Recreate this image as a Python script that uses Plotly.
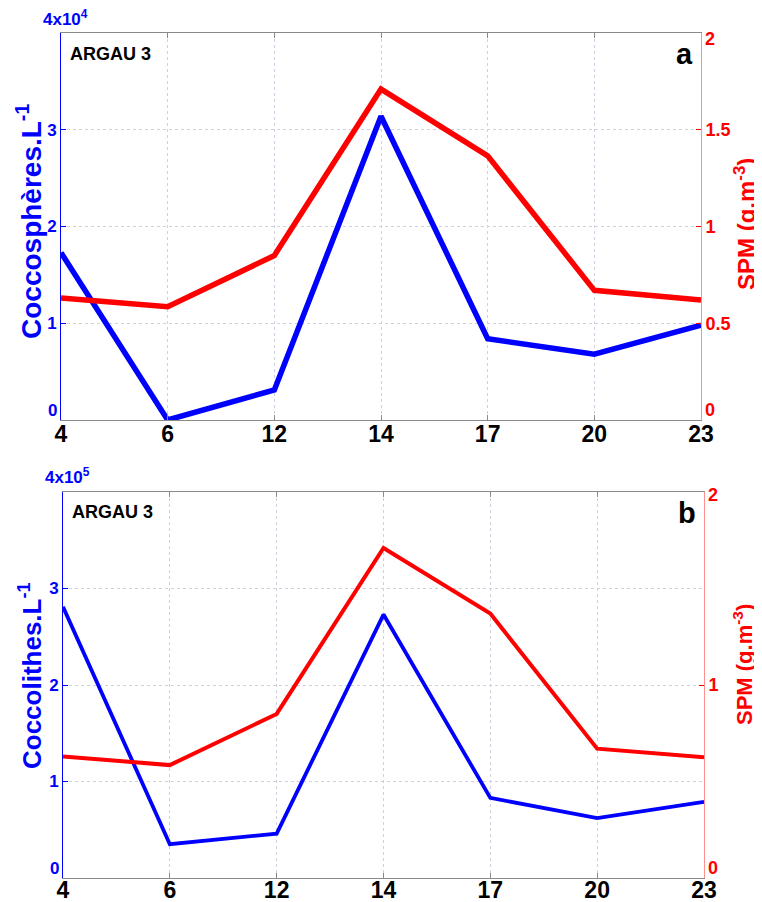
import plotly.graph_objects as go
from plotly.subplots import make_subplots

sampling = ["4", "6", "12", "14", "17", "20", "23"]
coccospheres = [1.73, 0.0, 0.31, 3.14, 0.84, 0.68, 0.98]      # x10^4 per L
coccolithes = [2.81, 0.35, 0.46, 2.73, 0.83, 0.62, 0.79]      # x10^5 per L
spm_a = [0.63, 0.585, 0.85, 1.71, 1.365, 0.67, 0.62]
spm_b = [0.63, 0.585, 0.85, 1.71, 1.37, 0.67, 0.625]
left_ticks = [1, 2, 3]
spm_ticks_a = [0.5, 1, 1.5]
spm_ticks_b = [1]

BLUE = "#0000ff"
RED = "#ff0000"
FONT = "Liberation Sans, Arial, sans-serif"
W, H = 762, 902
OFF = 8  # page body margin offset in the browser


def px(sx):
    return (sx - OFF) / W


def py(sy):
    return 1 - (sy - OFF) / H


fig = make_subplots(rows=2, cols=1, specs=[[{"secondary_y": True}], [{"secondary_y": True}]])

fig.add_trace(go.Scatter(x=sampling, y=coccospheres, mode="lines", line=dict(color=BLUE, width=5.5),
                         showlegend=False), row=1, col=1, secondary_y=False)
fig.add_trace(go.Scatter(x=sampling, y=spm_a, mode="lines", line=dict(color=RED, width=5.5),
                         showlegend=False), row=1, col=1, secondary_y=True)
fig.add_trace(go.Scatter(x=sampling, y=coccolithes, mode="lines", line=dict(color=BLUE, width=3.8),
                         showlegend=False), row=2, col=1, secondary_y=False)
fig.add_trace(go.Scatter(x=sampling, y=spm_b, mode="lines", line=dict(color=RED, width=4),
                         showlegend=False), row=2, col=1, secondary_y=True)

panels = [
    dict(x=[61, 701], y=[33, 420], xa="xaxis", ya="yaxis", ya2="yaxis2", spmticks=spm_ticks_a,
         title="Coccosphères.L<sup>-1</sup>", tsize=28, tx=29, ty=222,
         spm_size=24, sx=745, sy=224, standoff=-7,
         exp="4x10<sup>4</sup>", exp_bottom=31, top2_center=39,
         letter="a", argau_top=42),
    dict(x=[63, 704], y=[492, 878], xa="xaxis2", ya="yaxis3", ya2="yaxis4", spmticks=spm_ticks_b,
         title="Coccolithes.L<sup>-1</sup>", tsize=26, tx=30, ty=676,
         spm_size=22, sx=743, sy=665, standoff=-9,
         exp="4x10<sup>5</sup>", exp_bottom=489, top2_center=495,
         letter="b", argau_top=500),
]

grid = "#cfd1e0"
for p in panels:
    x0, x1 = p["x"]
    y0, y1 = p["y"]
    fig.layout[p["xa"]].update(
        domain=[px(x0), px(x1)], type="category", range=[0, 6], showgrid=True, gridcolor=grid,
        griddash="dot", gridwidth=1, showline=True, linecolor="#8a8a8a", linewidth=1, mirror="ticks",
        ticks="inside", ticklen=5, tickcolor="#8a8a8a", automargin=False,
        ticklabelstandoff=p["standoff"],
        tickfont=dict(family=FONT, size=23, color="black", weight="bold"), zeroline=False)
    fig.layout[p["ya"]].update(
        domain=[py(y1), py(y0)], range=[0, 4], tickvals=left_ticks, showgrid=True, gridcolor=grid,
        griddash="dot", gridwidth=1, showline=True, linecolor=BLUE, linewidth=1, ticks="inside",
        ticklen=5, tickcolor=BLUE, automargin=False,
        tickfont=dict(family=FONT, size=17, color=BLUE, weight="bold"), zeroline=False)
    fig.layout[p["ya2"]].update(
        range=[0, 2], tickvals=p["spmticks"], showgrid=False, showline=True, linecolor="#ff9090",
        linewidth=1, ticks="inside", ticklen=5, tickcolor=RED, automargin=False,
        tickfont=dict(family=FONT, size=18, color=RED, weight="bold"), zeroline=False)

    # axis titles
    fig.add_annotation(text="<b>" + p["title"] + "</b>", xref="paper", yref="paper",
                       x=px(p["tx"]), y=py(p["ty"]), textangle=-90, showarrow=False,
                       font=dict(family=FONT, size=p["tsize"], color=BLUE),
                       xanchor="center", yanchor="middle")
    fig.add_annotation(text="<b>SPM (g.m<sup>-3</sup>)</b>", xref="paper", yref="paper",
                       x=px(p["sx"]), y=py(p["sy"]), textangle=-90, showarrow=False,
                       font=dict(family=FONT, size=p["spm_size"], color=RED),
                       xanchor="center", yanchor="middle")
    # scale exponent
    fig.add_annotation(text="<b>" + p["exp"] + "</b>", xref="paper", yref="paper",
                       x=px(x0 - 20), y=py(p["exp_bottom"]), showarrow=False,
                       font=dict(family=FONT, size=17, color=BLUE),
                       xanchor="left", yanchor="bottom")
    # end tick labels (kept inside the axis span as in the original)
    fig.add_annotation(text="<b>0</b>", xref="paper", yref="paper",
                       x=px(x0 - 2), y=py(y1 + 2), showarrow=False,
                       font=dict(family=FONT, size=17, color=BLUE), xanchor="right", yanchor="bottom")
    fig.add_annotation(text="<b>0</b>", xref="paper", yref="paper",
                       x=px(x1 + 2), y=py(y1 + 2), showarrow=False,
                       font=dict(family=FONT, size=18, color=RED), xanchor="left", yanchor="bottom")
    fig.add_annotation(text="<b>2</b>", xref="paper", yref="paper",
                       x=px(x1 + 2), y=py(p["top2_center"]), showarrow=False,
                       font=dict(family=FONT, size=18, color=RED), xanchor="left", yanchor="middle")
    # labels in the panel
    fig.add_annotation(text="<b>ARGAU 3</b>", xref="paper", yref="paper",
                       x=px(x0 + 7), y=py(p["argau_top"]), showarrow=False,
                       font=dict(family=FONT, size=18, color="black"), xanchor="left", yanchor="top")
    fig.add_annotation(text="<b>" + p["letter"] + "</b>", xref="paper", yref="paper",
                       x=px(x1 - 6), y=py(y0 + 3), showarrow=False,
                       font=dict(family=FONT, size=29, color="black"), xanchor="right", yanchor="top")

fig.update_layout(width=W, height=H, margin=dict(l=0, r=0, t=0, b=0),
                  paper_bgcolor="white", plot_bgcolor="white", font=dict(family=FONT))
fig.write_html("out.html")
